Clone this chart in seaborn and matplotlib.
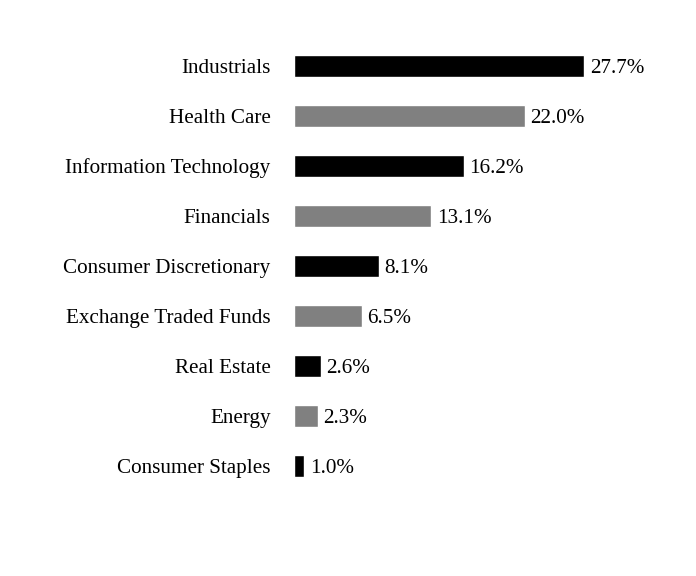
import matplotlib
matplotlib.use("Agg")
import matplotlib.pyplot as plt
import seaborn as sns
import pandas as pd

# sector weights
sectors = ["Industrials", "Health Care", "Information Technology", "Financials",
           "Consumer Discretionary", "Exchange Traded Funds", "Real Estate",
           "Energy", "Consumer Staples"]
weights = [27.7, 22.0, 16.2, 13.1, 8.1, 6.5, 2.6, 2.3, 1.0]
bar_colors = ["#000000", "#808080"] * 4 + ["#000000"]

df = pd.DataFrame({"Sector": sectors, "Weight": weights})

sns.set_style("white")
plt.rcParams["font.family"] = ["Liberation Serif", "DejaVu Serif"]
plt.rcParams["text.color"] = "black"
plt.rcParams["ytick.color"] = "black"

fig = plt.figure(figsize=(6.96, 5.76), dpi=100)
ax = fig.add_axes([293.5 / 696, 85 / 576, 367.5 / 696, 450 / 576])

sns.barplot(data=df, x="Weight", y="Sector", hue="Sector", palette=bar_colors,
            legend=False, width=0.44, ax=ax, saturation=1)

for i, v in enumerate(weights):
    ax.text(v + 0.55, i, f"{v:.1f}%", va="center_baseline", ha="left",
            fontsize=15.2, color="black")

ax.set_xlim(0, 35)
ax.set_ylim(8.5, -0.5)
ax.set_xlabel("")
ax.set_ylabel("")
ax.set_xticks([])
ax.tick_params(axis="y", length=0, pad=16.5, labelsize=15.2, labelcolor="black")
for lbl in ax.get_yticklabels():
    lbl.set_verticalalignment("center_baseline")
sns.despine(ax=ax, left=True, bottom=True)

fig.savefig("out.png", dpi=100)
